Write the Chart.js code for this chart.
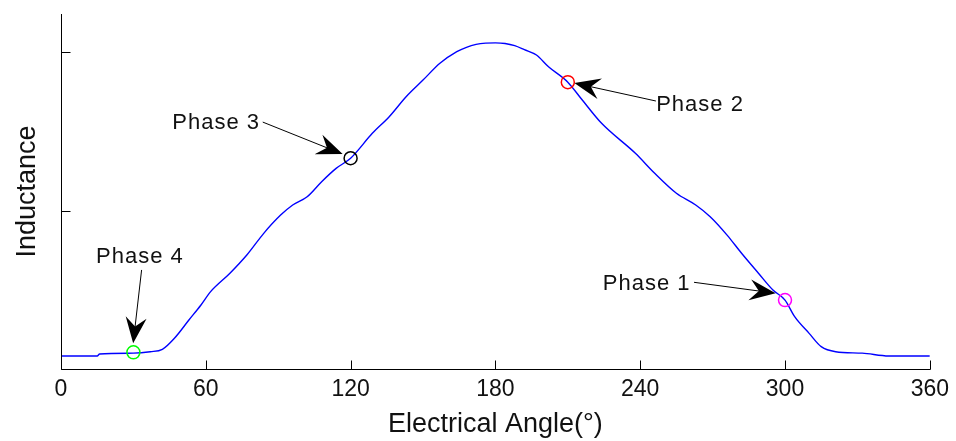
<!DOCTYPE html>
<html><head><meta charset="utf-8">
<script src="https://cdn.jsdelivr.net/npm/chart.js@4/dist/chart.umd.min.js"></script>
<style>html,body{margin:0;padding:0;background:#fff;}</style>
</head><body>
<canvas id="c" width="956" height="441"></canvas>
<script>
// ---- data ----
const angles = [0, 15, 16, 30, 37, 42, 47, 53, 58, 62, 70, 77, 84, 91, 96, 102, 108, 114, 120, 129, 136, 143, 150, 157, 164, 168, 172, 176, 180, 184, 188, 192, 197, 202, 210, 216, 224, 238, 246, 255, 263, 269, 276, 282, 289, 295, 300, 304, 310, 315, 321, 332, 343, 360];
const inductance = [0.082, 0.082, 0.095, 0.100, 0.109, 0.124, 0.194, 0.309, 0.404, 0.488, 0.604, 0.719, 0.856, 0.971, 1.035, 1.087, 1.182, 1.266, 1.330, 1.487, 1.592, 1.718, 1.823, 1.929, 2.002, 2.030, 2.048, 2.056, 2.058, 2.054, 2.040, 2.015, 1.981, 1.907, 1.810, 1.697, 1.550, 1.361, 1.235, 1.109, 1.035, 0.961, 0.845, 0.730, 0.604, 0.498, 0.435, 0.330, 0.225, 0.141, 0.109, 0.100, 0.082, 0.082];
const xTickLabels = [0, 60, 120, 180, 240, 300, 360];
const yTickValues = [0, 1, 2];
const phaseNames = ['Phase 1', 'Phase 2', 'Phase 3', 'Phase 4'];
const phaseAngles = [300, 210, 120, 30];
const phaseValues = [0.435, 1.81, 1.33, 0.105];
const phaseColors = ['#FF00FF', '#FF0000', '#000000', '#00FF00'];
// annotation anchors (data units): text baseline centre, arrow tail, arrow tip
const labelAnchor = [[242.7, 0.498], [264.8, 1.628], [64.3, 1.514], [32.7, 0.669]];
const arrowTail = [[262.3, 0.547], [246.5, 1.691], [83.6, 1.558], [33.4, 0.625]];
const arrowTip = [[296.1, 0.478], [212.7, 1.804], [116.7, 1.356], [29.9, 0.162]];

const FONT = '"Liberation Sans", Arial, Helvetica, sans-serif';

const decor = {
  id: 'decor',
  afterDatasetsDraw(chart) {
    const ctx = chart.ctx, xs = chart.scales.x, ys = chart.scales.y, a = chart.chartArea;
    ctx.save();
    ctx.strokeStyle = '#000'; ctx.lineWidth = 1;
    const lx = Math.round(a.left) + 0.5, by = Math.round(a.bottom) + 0.5;
    ctx.beginPath();
    ctx.moveTo(lx, Math.round(a.top)); ctx.lineTo(lx, by);
    ctx.lineTo(Math.round(a.right) + 0.5, by);
    ctx.stroke();
    ctx.beginPath();
    xTickLabels.forEach(v => {
      const px = Math.round(xs.getPixelForValue(v)) + 0.5;
      ctx.moveTo(px, by); ctx.lineTo(px, by - 9);
    });
    yTickValues.forEach(v => {
      const py = Math.round(ys.getPixelForValue(v)) + 0.5;
      ctx.moveTo(lx, py); ctx.lineTo(lx + 9, py);
    });
    ctx.stroke();
    for (let i = 0; i < phaseNames.length; i++) {
      const tx = xs.getPixelForValue(arrowTail[i][0]), ty = ys.getPixelForValue(arrowTail[i][1]);
      const hx = xs.getPixelForValue(arrowTip[i][0]), hy = ys.getPixelForValue(arrowTip[i][1]);
      const dx = hx - tx, dy = hy - ty, len = Math.hypot(dx, dy);
      const ux = dx / len, uy = dy / len, nx = -uy, ny = ux;
      const L = 26, W = 21;
      ctx.strokeStyle = '#000'; ctx.lineWidth = 1;
      ctx.beginPath(); ctx.moveTo(tx, ty); ctx.lineTo(hx - ux * L * 0.6, hy - uy * L * 0.6); ctx.stroke();
      ctx.fillStyle = '#000';
      ctx.beginPath();
      ctx.moveTo(hx, hy);
      ctx.lineTo(hx - ux * L + nx * W / 2, hy - uy * L + ny * W / 2);
      ctx.lineTo(hx - ux * L * 0.65, hy - uy * L * 0.65);
      ctx.lineTo(hx - ux * L - nx * W / 2, hy - uy * L - ny * W / 2);
      ctx.closePath(); ctx.fill();
      ctx.fillStyle = '#111';
      ctx.font = '22px ' + FONT;
      try { ctx.letterSpacing = '1px'; } catch (e) {}
      ctx.textAlign = 'center'; ctx.textBaseline = 'alphabetic';
      ctx.fillText(phaseNames[i], xs.getPixelForValue(labelAnchor[i][0]), ys.getPixelForValue(labelAnchor[i][1]));
      try { ctx.letterSpacing = '0px'; } catch (e) {}
    }
    ctx.restore();
  }
};

const datasets = [{
  data: angles.map((a, i) => ({x: a, y: inductance[i]})),
  borderColor: '#0000FF', borderWidth: 1.4, pointRadius: 0, cubicInterpolationMode: 'monotone', fill: false, order: 2
}];
phaseNames.forEach((n, i) => {
  datasets.push({
    type: 'scatter', label: n,
    data: [{x: phaseAngles[i], y: phaseValues[i]}],
    pointRadius: 6.5, pointBorderWidth: 1.5,
    pointBorderColor: phaseColors[i], pointBackgroundColor: 'rgba(0,0,0,0)',
    showLine: false, order: 1
  });
});

new Chart(document.getElementById('c'), {
  type: 'line',
  data: {datasets},
  options: {
    responsive: false, animation: false, events: [],
    layout: {padding: {left: 0, right: 25, top: 14, bottom: 0}},
    plugins: {legend: {display: false}, tooltip: {enabled: false}},
    scales: {
      x: {
        type: 'linear', min: 0, max: 360,
        afterBuildTicks: s => { s.ticks = xTickLabels.map(v => ({value: v})); },
        afterFit: s => { s.height = 72; },
        grid: {display: false, drawTicks: false}, border: {display: false},
        ticks: {padding: 7, color: '#111', font: {family: FONT, size: 23}, maxRotation: 0, autoSkip: false},
        title: {display: true, text: 'Electrical Angle(°)', color: '#111', font: {family: FONT, size: 27, lineHeight: 1.2}, padding: {top: 0, bottom: 0}}
      },
      y: {
        type: 'linear', min: 0, max: 2.24,
        afterBuildTicks: s => { s.ticks = yTickValues.map(v => ({value: v})); },
        afterFit: s => { s.width = 61; },
        grid: {display: false, drawTicks: false}, border: {display: false},
        ticks: {display: false},
        title: {display: true, text: 'Inductance', color: '#111', font: {family: FONT, size: 27, lineHeight: 1.2}, padding: {top: 11, bottom: 0}}
      }
    }
  },
  plugins: [decor]
});
</script>
</body></html>
